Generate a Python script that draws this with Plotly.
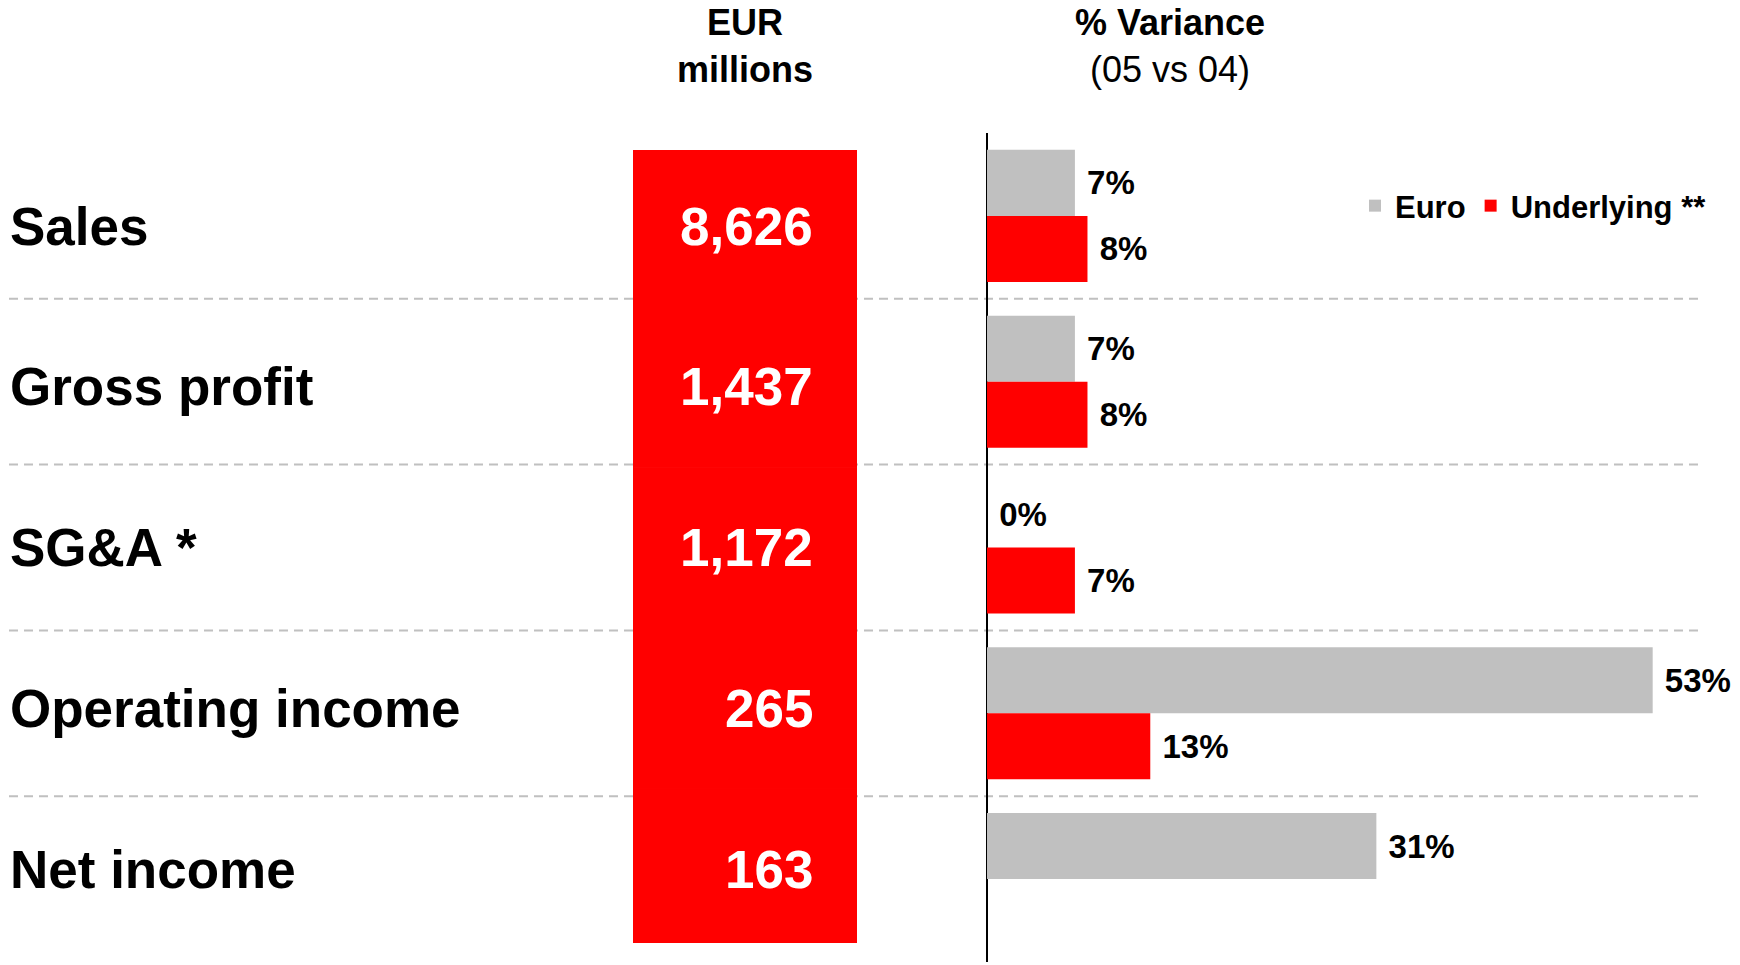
import plotly.graph_objects as go

# ---------------- data ----------------
categories = ["Sales", "Gross profit", "SG&A *", "Operating income", "Net income"]
eur_millions = [8626, 1437, 1172, 265, 163]
var_euro = [7, 7, 0, 53, 31]
var_underlying = [8, 8, 7, 13, None]
series_names = ["Euro", "Underlying **"]
header_left = "EUR<br>millions"
header_right_bold = "% Variance"
header_right_sub = "(05 vs 04)"

# ---------------- style ----------------
W, H = 1740, 965
FONT = "Liberation Sans, Arial, Helvetica, sans-serif"
GREY = "#C0C0C0"
RED = "#FF0000"
NBSP = "\u00a0"


def px_x(p):
    return p / W


def px_y(p):
    return 1 - p / H


fig = go.Figure()

# variance bars (main axes)
for name, vals, col in [(series_names[0], var_euro, GREY), (series_names[1], var_underlying, RED)]:
    fig.add_trace(go.Bar(
        y=categories, x=vals, orientation="h", name=name,
        marker=dict(color=col, line=dict(width=0)),
        text=[None if v is None else f"{NBSP}{v}%" for v in vals],
        textposition="outside", constraintext="none", cliponaxis=False,
        textfont=dict(family=FONT, size=33, color="black", weight="bold"),
        hoverinfo="skip", xaxis="x", yaxis="y",
    ))

# red EUR column (one full-height cell per category)
fig.add_trace(go.Bar(
    y=categories, x=[1] * len(categories), orientation="h", width=1,
    marker=dict(color=RED, line=dict(color=RED, width=1)),
    showlegend=False, hoverinfo="skip", xaxis="x2", yaxis="y2",
))

annotations = []
# row labels and EUR values
for cat, val in zip(categories, eur_millions):
    annotations.append(dict(
        text=cat, xref="paper", x=px_x(8), xanchor="left",
        yref="y2", y=cat, yanchor="middle", showarrow=False,
        font=dict(family=FONT, size=53, color="black", weight="bold")))
    annotations.append(dict(
        text=f"{val:,}", xref="x2", x=(815 - 633) / (857 - 633), xanchor="right",
        yref="y2", y=cat, yanchor="middle", showarrow=False,
        font=dict(family=FONT, size=53, color="white", weight="bold")))

# headers
annotations.append(dict(
    text=header_left, xref="paper", x=px_x(745), xanchor="center",
    yref="paper", y=px_y(46), yanchor="middle", showarrow=False, align="center",
    font=dict(family=FONT, size=36, color="black", weight="bold")))
annotations.append(dict(
    text=f"<b>{header_right_bold}</b><br>{header_right_sub}", xref="paper", x=px_x(1170),
    xanchor="center", yref="paper", y=px_y(46), yanchor="middle", showarrow=False,
    align="center", font=dict(family=FONT, size=36, color="black")))

# dashed row separators at category boundaries
shapes = []
for i in range(len(categories) - 1):
    shapes.append(dict(
        type="line", xref="x domain", x0=0, x1=1, yref="y", y0=i + 0.5, y1=i + 0.5,
        line=dict(color=GREY, width=2, dash="9px,6px"), layer="below"))

fig.update_layout(
    width=W, height=H, margin=dict(l=0, r=0, t=0, b=0),
    paper_bgcolor="white", plot_bgcolor="rgba(0,0,0,0)",
    barmode="group", bargap=0.203, bargroupgap=0,
    font=dict(family=FONT, color="black"),
    annotations=annotations, shapes=shapes,
    showlegend=True,
    legend=dict(
        orientation="h", x=px_x(1355), xanchor="left", y=px_y(206), yanchor="middle",
        font=dict(family=FONT, size=31, color="black", weight="bold"),
        bgcolor="rgba(0,0,0,0)", traceorder="normal", itemclick=False,
    ),
    xaxis=dict(
        domain=[px_x(9), px_x(1698)],
        range=[(9 - 987) / 12.56, (1698 - 987) / 12.56],
        showgrid=False, showticklabels=False, ticks="",
        zeroline=True, zerolinecolor="black", zerolinewidth=2, fixedrange=True,
    ),
    yaxis=dict(
        domain=[px_y(962), px_y(133)], type="category",
        range=[len(categories) - 0.5, -0.5],
        showgrid=False, showticklabels=False, ticks="", zeroline=False, fixedrange=True,
    ),
    xaxis2=dict(
        domain=[px_x(633), px_x(857)], range=[0, 1], anchor="y2",
        showgrid=False, showticklabels=False, ticks="", zeroline=False, fixedrange=True,
    ),
    yaxis2=dict(
        domain=[px_y(943), px_y(150)], type="category", anchor="x2",
        range=[4.46, -0.473],
        showgrid=False, showticklabels=False, ticks="", zeroline=False, fixedrange=True,
    ),
)

fig.write_html(
    "out.html",
    config={"displayModeBar": False},
    post_script="document.body.style.margin='0';document.body.style.overflow='hidden';",
)
